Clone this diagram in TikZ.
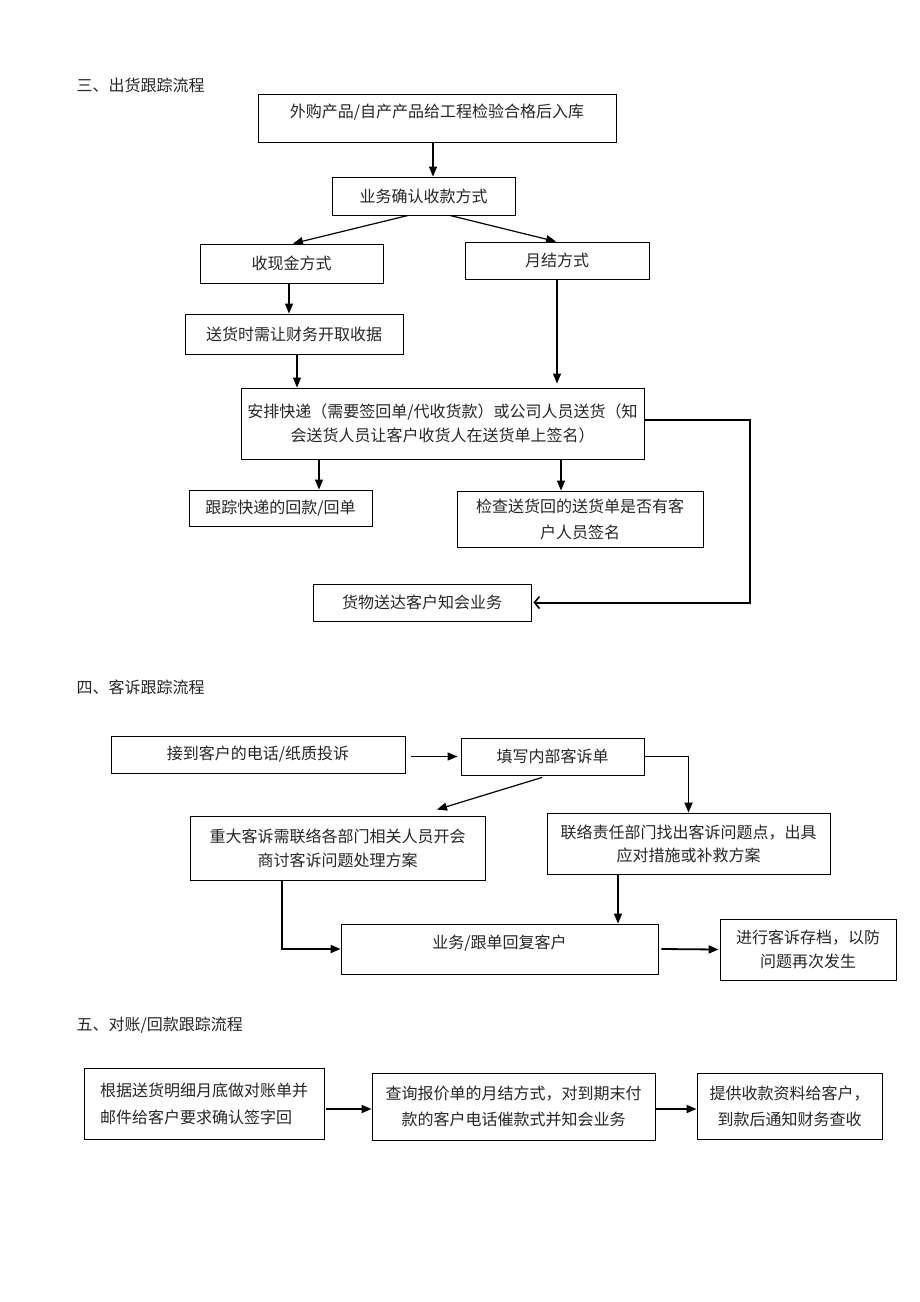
\documentclass[tikz,border=0pt]{standalone}
\usepackage{fontspec}
\setmainfont{Noto Sans CJK SC}
\usetikzlibrary{arrows.meta}
\begin{document}
\begin{tikzpicture}[x=1pt,y=-1pt,
  box/.style={draw=black, line width=0.9pt, inner sep=2pt, align=center,
    font=\fontsize{16}{24}\selectfont, text=black!85},
  ttl/.style={anchor=west, font=\fontsize{16}{18}\selectfont, text=black!85},
  arr/.style={line width=1.2pt, -{Triangle[length=10pt,width=8pt]}},
  thickarr/.style={line width=1.8pt, -{Triangle[length=10pt,width=8pt]}},
  looparr/.style={line width=2pt, -{Straight Barb[length=5pt,width=12pt,line width=1.6pt]}}]
\fill[white] (0,0) rectangle (920,1302);
\useasboundingbox (0,0) rectangle (920,1302);

% ---------- Section 3 ----------
\node[ttl] (T3) at (73,85) {三、出货跟踪流程};
\node[box, minimum width=358pt, minimum height=48pt, text depth=14pt] (B1) at (437,118) {外购产品/自产产品给工程检验合格后入库};
\node[box, minimum width=183pt, minimum height=38pt] (B2) at (423.5,196) {业务确认收款方式};
\node[box, minimum width=183pt, minimum height=39pt] (B3) at (291.5,263.5) {收现金方式};
\node[box, minimum width=184pt, minimum height=37pt] (B4) at (557,260.5) {月结方式};
\node[box, minimum width=218pt, minimum height=40pt] (B5) at (294,334) {送货时需让财务开取收据};
\node[box, minimum width=403pt, minimum height=71pt] (B6) at (442.5,423.5) {安排快递（需要签回单/代收货款）或公司人员送货（知\\会送货人员让客户收货人在送货单上签名）};
\node[box, minimum width=183pt, minimum height=36pt] (B7) at (280.5,508) {跟踪快递的回款/回单};
\node[box, minimum width=246pt, minimum height=56pt, font=\fontsize{16}{26}\selectfont] (B8) at (580,519) {检查送货回的送货单是否有客\\户人员签名};
\node[box, minimum width=218pt, minimum height=37pt] (B9) at (422,602.5) {货物送达客户知会业务};

\draw[arr] ([xshift=-4pt]B1.south) -- ([xshift=9.5pt]B2.north);
\draw[arr] ([xshift=-15.5pt]B2.south) -- ([xshift=1.5pt]B3.north);
\draw[arr] ([xshift=26.5pt]B2.south) -- ([xshift=-1pt]B4.north);
\draw[arr] ([xshift=-2.5pt]B3.south) -- ([xshift=-5pt]B5.north);
\draw[arr] ([xshift=3pt]B5.south) -- ([xshift=-145.5pt]B6.north);
\draw[arr] (B4.south) -- ([xshift=114.5pt,yshift=4pt]B6.north);
\draw[arr] ([xshift=-123.5pt]B6.south) -- ([xshift=38.5pt]B7.north);
\draw[arr] ([xshift=118.5pt]B6.south) -- ([xshift=-19pt]B8.north);
\draw[looparr] ([yshift=3.5pt]B6.east) -- ++(106,0) |- ([xshift=2pt]B9.east);

% ---------- Section 4 ----------
\node[ttl] (T4) at (73,687) {四、客诉跟踪流程};
\node[box, minimum width=294pt, minimum height=37pt] (C1) at (258,754.5) {接到客户的电话/纸质投诉};
\node[box, minimum width=183pt, minimum height=37pt] (C2) at (552.5,756.5) {填写内部客诉单};
\node[box, minimum width=295pt, minimum height=64pt] (C3) at (337.5,848) {重大客诉需联络各部门相关人员开会\\商讨客诉问题处理方案};
\node[box, minimum width=283pt, minimum height=61pt, font=\fontsize{16}{23}\selectfont] (C4) at (688.5,843.5) {联络责任部门找出客诉问题点，出具\\应对措施或补救方案};
\node[box, minimum width=317pt, minimum height=50pt, text depth=15pt] (C5) at (499.5,949) {业务/跟单回复客户};
\node[box, minimum width=176pt, minimum height=61pt] (C6) at (808,949.5) {进行客诉存档，以防\\问题再次发生};

\draw[arr] ([xshift=6pt,yshift=-2pt]C1.east) -- ([xshift=-3pt]C2.west);
\draw[arr] ([xshift=-10.5pt,yshift=-2pt]C2.south) -- ([xshift=99.5pt,yshift=6pt]C3.north);
\draw[thickarr] (C2.east) -| (C4.north);
\draw[arr] ([xshift=-70.5pt]C4.south) -- ([xshift=118.5pt]C5.north);
\draw[thickarr] ([xshift=-55.5pt]C3.south) |- (C5.west);
\draw[thickarr] ([xshift=3pt]C5.east) -- ([xshift=-1pt]C6.west);

% ---------- Section 5 ----------
\node[ttl] (T5) at (73,1025) {五、对账/回款跟踪流程};
\node[box, minimum width=240pt, minimum height=71pt, align=left, font=\fontsize{16}{27}\selectfont] (D1) at (204,1103.5) {根据送货明细月底做对账单并\\邮件给客户要求确认签字回};
\node[box, minimum width=283pt, minimum height=67pt, font=\fontsize{16}{26}\selectfont] (D2) at (513.5,1106.5) {查询报价单的月结方式，对到期末付\\款的客户电话催款式并知会业务};
\node[box, minimum width=185pt, minimum height=66pt, font=\fontsize{16}{26}\selectfont] (D3) at (789.5,1106) {提供收款资料给客户，\\到款后通知财务查收};

\draw[thickarr] ([xshift=2pt,yshift=-5.5pt]D1.east) -- ([yshift=-2.5pt]D2.west);
\draw[thickarr] ([yshift=-2.5pt]D2.east) -- ([yshift=-3pt]D3.west);
\end{tikzpicture}
\end{document}
